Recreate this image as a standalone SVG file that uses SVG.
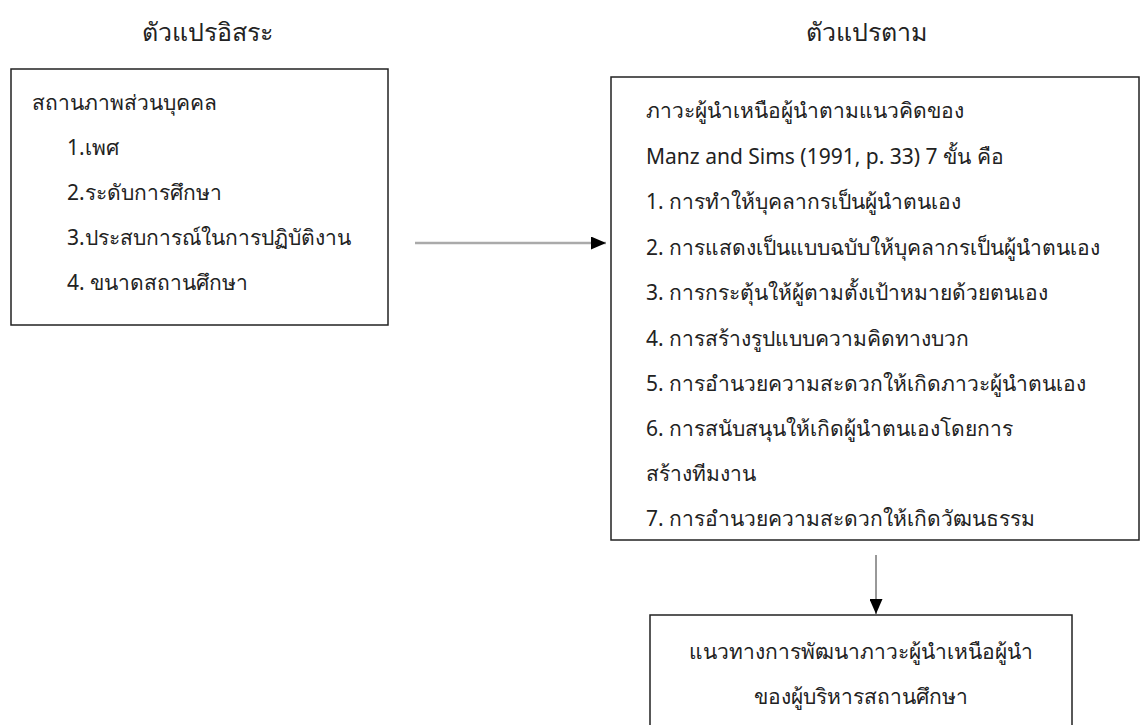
<svg xmlns="http://www.w3.org/2000/svg" width="1142" height="725" viewBox="0 0 1142 725">
<style>
text{font-family:"Noto Sans","DejaVu Sans",sans-serif;fill:#222;font-size:21px}
.title{font-size:25px}
.box{fill:#fff;stroke:#222;stroke-width:1.5}
.mid{text-anchor:middle}
</style>
<defs>
<marker id="ah" markerWidth="15" markerHeight="13" refX="15" refY="6.5" orient="auto" markerUnits="userSpaceOnUse">
<path d="M0,0 L15,6.5 L0,13 Z" fill="#000"/>
</marker>
</defs>
<rect width="1142" height="725" fill="#fff"/>
<g id="title-independent"><text class="title mid" x="207" y="41">ตัวแปรอิสระ</text></g>
<g id="title-dependent"><text class="title mid" x="866" y="41">ตัวแปรตาม</text></g>
<g id="node-personal">
<rect class="box" x="11" y="69" width="377" height="256"/>
<text x="32" y="110">สถานภาพส่วนบุคคล</text>
<text x="67" y="155">1.เพศ</text>
<text x="67" y="200">2.ระดับการศึกษา</text>
<text x="67" y="245">3.ประสบการณ์ในการปฏิบัติงาน</text>
<text x="67" y="290">4. ขนาดสถานศึกษา</text>
</g>
<g id="node-superleadership">
<rect class="box" x="611" y="77" width="528" height="463"/>
<text x="646" y="118">ภาวะผู้นำเหนือผู้นำตามแนวคิดของ</text>
<text x="646" y="164">Manz and Sims (1991, p. 33) 7 ขั้น คือ</text>
<text x="646" y="209">1. การทำให้บุคลากรเป็นผู้นำตนเอง</text>
<text x="646" y="255">2. การแสดงเป็นแบบฉบับให้บุคลากรเป็นผู้นำตนเอง</text>
<text x="646" y="300">3. การกระตุ้นให้ผู้ตามตั้งเป้าหมายด้วยตนเอง</text>
<text x="646" y="346">4. การสร้างรูปแบบความคิดทางบวก</text>
<text x="646" y="391">5. การอำนวยความสะดวกให้เกิดภาวะผู้นำตนเอง</text>
<text x="646" y="436">6. การสนับสนุนให้เกิดผู้นำตนเองโดยการ</text>
<text x="646" y="481">สร้างทีมงาน</text>
<text x="646" y="526">7. การอำนวยความสะดวกให้เกิดวัฒนธรรม</text>
</g>
<g id="node-guideline">
<rect class="box" x="650" y="615" width="422" height="120"/>
<text class="mid" x="861" y="659">แนวทางการพัฒนาภาวะผู้นำเหนือผู้นำ</text>
<text class="mid" x="861" y="704">ของผู้บริหารสถานศึกษา</text>
</g>
<g id="connectors">
<line x1="415" y1="243" x2="606" y2="243" stroke="#aaa" stroke-width="2.5" marker-end="url(#ah)"/>
<line x1="876" y1="555" x2="876" y2="614" stroke="#333" stroke-width="1" marker-end="url(#ah)"/>
</g>
</svg>
